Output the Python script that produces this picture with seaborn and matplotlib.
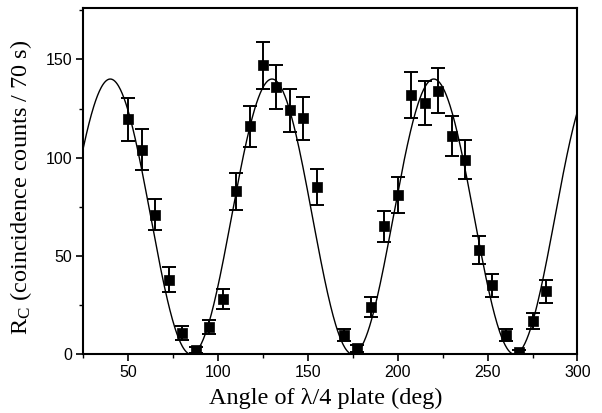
import numpy as np
import pandas as pd
import matplotlib
matplotlib.use("Agg")
import matplotlib.pyplot as plt
import seaborn as sns
from matplotlib.ticker import MultipleLocator

# ---- data ----
angle = [50, 57.5, 65, 72.5, 80, 87.5, 95, 102.5, 110, 117.5, 125, 132.5, 140,
         147.5, 155, 170, 177.5, 185, 192.5, 200, 207.5, 215, 222.5, 230,
         237.5, 245, 252.5, 260, 267.5, 275, 282.5]
counts = [119.5, 104, 71, 38, 11, 2, 14, 28, 83, 116, 147, 136, 124,
          120, 85, 10, 3, 24, 65, 81, 132, 128, 134, 111,
          99, 53, 35, 10, 1.2, 17, 32]
errors = [11, 10.4, 8, 6.5, 3.5, 1.5, 3.7, 5, 9.4, 10.5, 12, 11.3, 11,
          11, 9.3, 3, 1.7, 5, 7.7, 9, 11.6, 11.2, 11.5, 10,
          9.8, 7, 5.8, 3, 1, 4, 6]

# fitted model parameters (cos^2 fit shown in the reference)
fit_amplitude = 140.0
fit_period = 90.0
fit_phase = 40.0

x_ticks = [50, 100, 150, 200, 250, 300]
y_ticks = [0, 50, 100, 150]

df = pd.DataFrame({"angle": angle, "counts": counts, "err": errors})
xf = np.linspace(25, 300, 800)
fit_df = pd.DataFrame({"angle": xf,
                       "counts": fit_amplitude * np.cos(np.pi * (xf - fit_phase) / fit_period) ** 2})

sns.set_style("ticks")
plt.rcParams["font.family"] = ["Liberation Sans", "DejaVu Sans"]
plt.rcParams["mathtext.fontset"] = "custom"
plt.rcParams["mathtext.rm"] = "Liberation Serif"
plt.rcParams["mathtext.it"] = "Liberation Serif:italic"
plt.rcParams["text.color"] = "black"
plt.rcParams["axes.labelcolor"] = "black"
plt.rcParams["xtick.color"] = "black"
plt.rcParams["ytick.color"] = "black"

fig = plt.figure(figsize=(6.02, 4.13), dpi=100)
ax = fig.add_axes([0.1384, 0.1421, 0.8209, 0.838])

sns.lineplot(data=fit_df, x="angle", y="counts", ax=ax, color="black", lw=1.0)
ax.errorbar(df["angle"], df["counts"], yerr=df["err"], fmt="none",
            ecolor="black", elinewidth=1.4, capsize=5, capthick=1.4, zorder=3)
sns.scatterplot(data=df, x="angle", y="counts", ax=ax, marker="s", color="black",
                s=42, edgecolor="black", linewidth=0.5, zorder=4)

ax.set_xlim(25, 300)
ax.set_ylim(0, 176)
ax.set_xticks(x_ticks)
ax.set_yticks(y_ticks)
ax.xaxis.set_minor_locator(MultipleLocator(25))
ax.yaxis.set_minor_locator(MultipleLocator(25))
ax.tick_params(axis="both", which="major", direction="out", length=5, width=1.2,
               labelsize=11.5, top=False, right=False, pad=3, colors="black")
ax.tick_params(axis="both", which="minor", direction="out", length=3, width=1.0,
               top=False, right=False, colors="black")
for s in ax.spines.values():
    s.set_visible(True)
    s.set_linewidth(1.5)
    s.set_color("black")

ax.set_xlabel("Angle of λ/4 plate (deg)", family="Liberation Serif",
              fontsize=17.5, color="black")
ax.set_ylabel(r"R$_\mathrm{C}$ (coincidence counts / 70 s)", family="Liberation Serif",
              fontsize=17.5, color="black")
ax.xaxis.set_label_coords(0.491, -0.098)
ax.yaxis.set_label_coords(-0.100, 0.482)

fig.savefig("out.png", dpi=100)
